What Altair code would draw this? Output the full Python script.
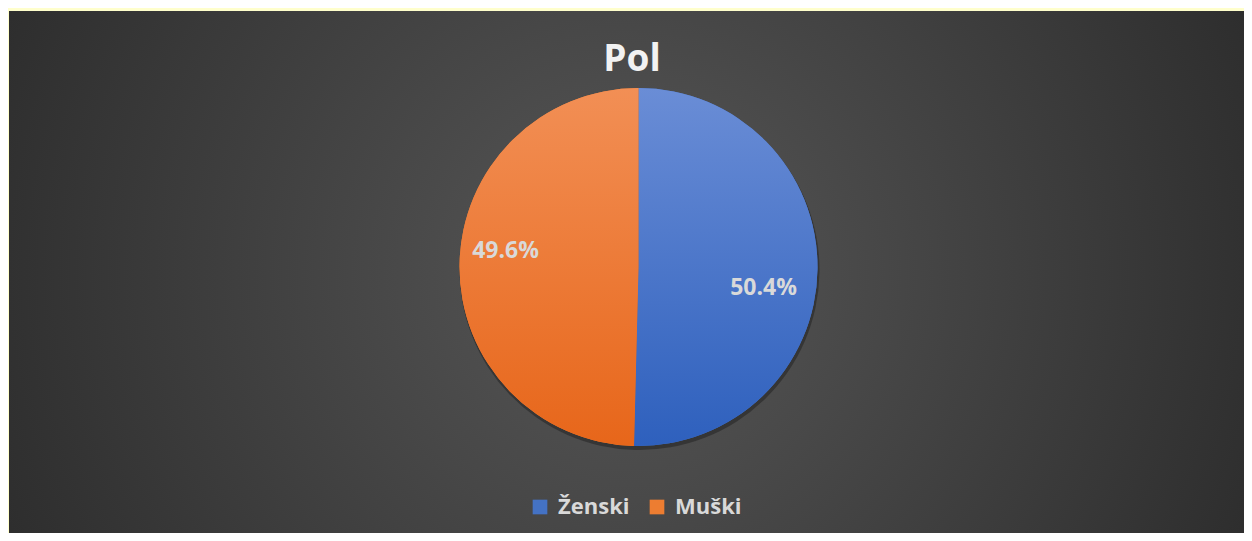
import altair as alt
import pandas as pd

categories = ["Ženski", "Muški"]
values = [50.4, 49.6]
labels = ["50.4%", "49.6%"]
legend_colors = ["#4472C4", "#ED7D31"]

df = pd.DataFrame({"cat": categories, "value": values, "label": labels, "idx": [0, 1]})

W, H = 1236, 525
CX, CY, R = 630.5, 259, 179

blue_grad = alt.Gradient(gradient="linear", x1=0, y1=0, x2=0, y2=1,
                         stops=[alt.GradientStop(color="#6A8DD6", offset=0),
                                alt.GradientStop(color="#2E60BD", offset=1)])
orange_grad = alt.Gradient(gradient="linear", x1=0, y1=0, x2=0, y2=1,
                           stops=[alt.GradientStop(color="#F28F55", offset=0),
                                  alt.GradientStop(color="#E7661A", offset=1)])
bg_grad = alt.Gradient(gradient="radial", x1=0.5, y1=0.5, x2=0.5, y2=0.5, r1=0, r2=0.62,
                       stops=[alt.GradientStop(color="#575757", offset=0),
                              alt.GradientStop(color="#282828", offset=1)])

base = alt.Chart(df).transform_window(
    cum="sum(value)", sort=[alt.SortField("idx")], frame=[None, 0]
).transform_calculate(
    start="datum.cum - datum.value", mid="datum.cum - datum.value/2"
)

theta_scale = alt.Scale(domain=[0, 100], range=[0, 6.283185307])

bg = alt.Chart(df).mark_rect(color=bg_grad).encode(
    x=alt.value(1), x2=alt.value(W), y=alt.value(3), y2=alt.value(H)
).transform_filter("datum.idx == 0")

shadow = base.mark_arc(outerRadius=R + 1, color="#1a1a1a", opacity=0.45).encode(
    theta=alt.Theta("start:Q", scale=theta_scale), theta2="cum:Q",
    x=alt.value(CX + 1), y=alt.value(CY + 3)
)

legend_arc = base.mark_arc(outerRadius=R).encode(
    theta=alt.Theta("start:Q", scale=theta_scale), theta2="cum:Q",
    x=alt.value(CX), y=alt.value(CY),
    color=alt.Color("cat:N", scale=alt.Scale(domain=categories, range=legend_colors), sort=None,
                    legend=alt.Legend(title=None, orient="none", direction="horizontal",
                                      legendX=521, legendY=488, symbolType="square",
                                      symbolSize=215, symbolStrokeWidth=0, labelOffset=7,
                                      columnPadding=16, padding=0,
                                      labelFont="Open Sans", labelFontSize=22,
                                      labelFontWeight="bold", labelColor="#D9D9D9",
                                      labelBaseline="middle")),
)

pie = base.mark_arc(outerRadius=R).encode(
    theta=alt.Theta("start:Q", scale=theta_scale), theta2="cum:Q",
    x=alt.value(CX), y=alt.value(CY),
    color=alt.condition("datum.cat == 'Ženski'", alt.value(blue_grad), alt.value(orange_grad)),
)

txt_kw = dict(radius=130, font="Open Sans", fontSize=23, fontWeight="bold",
              color="#D9D9D9", align="center", baseline="middle")
lab_blue = base.transform_filter("datum.idx == 0").mark_text(dx=-5, dy=19, **txt_kw).encode(
    theta=alt.Theta("mid:Q", scale=theta_scale), text="label:N",
    x=alt.value(CX), y=alt.value(CY))
lab_orange = base.transform_filter("datum.idx == 1").mark_text(dx=-3, dy=-14, **txt_kw).encode(
    theta=alt.Theta("mid:Q", scale=theta_scale), text="label:N",
    x=alt.value(CX), y=alt.value(CY))

title = alt.Chart(df).transform_filter("datum.idx == 0").mark_text(
    text="Pol", font="Open Sans", fontSize=37, fontWeight="bold", color="#F2F2F2",
    align="center", baseline="middle"
).encode(x=alt.value(624), y=alt.value(52))

chart = alt.layer(bg, shadow, legend_arc, pie, lab_blue, lab_orange, title).properties(
    width=W, height=H, padding=0, autosize=alt.AutoSizeParams(type="none"),
    background="#FFFFCC"
).configure_view(stroke=None)

chart.save("out.html", embed_options={"renderer": "svg", "actions": False})
